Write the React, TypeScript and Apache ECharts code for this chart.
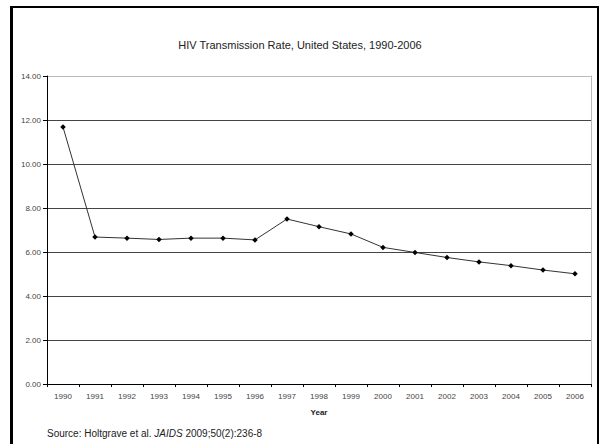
import React, { useEffect, useRef } from "react";
import * as echarts from "echarts";

const years = ["1990","1991","1992","1993","1994","1995","1996","1997","1998","1999","2000","2001","2002","2003","2004","2005","2006"];
const rates = [11.68, 6.68, 6.63, 6.57, 6.63, 6.63, 6.55, 7.5, 7.15, 6.82, 6.21, 5.98, 5.75, 5.55, 5.38, 5.18, 5.01];
const titleText = "HIV Transmission Rate, United States, 1990-2006";
const xAxisName = "Year";

const FONT = '"Liberation Sans", Arial, sans-serif';

export default function App() {
  const ref = useRef<HTMLDivElement>(null);
  useEffect(() => {
    if (!ref.current) return;
    const chart = echarts.init(ref.current, undefined, { renderer: "svg" });
    chart.setOption({
      animation: false,
      backgroundColor: "#fff",
      title: {
        text: titleText,
        left: "center",
        top: 39,
        padding: [0, 0, 0, 10],
        textStyle: { fontFamily: FONT, fontSize: 11, fontWeight: "normal", color: "#222" },
      },
      grid: { left: 47, right: 9, top: 76, bottom: 60, containLabel: false },
      xAxis: {
        type: "category",
        data: years,
        boundaryGap: true,
        name: xAxisName,
        nameLocation: "middle",
        nameGap: 24,
        nameTextStyle: { fontFamily: FONT, fontSize: 8, fontWeight: "bold", color: "#222" },
        axisLine: { lineStyle: { color: "#000", width: 1 } },
        axisTick: { show: true, inside: false, length: 3, interval: 0, lineStyle: { color: "#000" } },
        axisLabel: { fontFamily: FONT, fontSize: 8, color: "#444", margin: 8, interval: 0 },
        splitLine: { show: false },
      },
      yAxis: [
        {
          type: "value",
          min: 0,
          max: 14,
          interval: 2,
          axisLine: { show: true, lineStyle: { color: "#000", width: 1 } },
          axisTick: { show: true, inside: false, length: 4, lineStyle: { color: "#000" } },
          axisLabel: { fontFamily: FONT, fontSize: 8, color: "#444", margin: 6, formatter: (v: number) => v.toFixed(2) },
          splitLine: {
            show: true,
            lineStyle: { color: ["#444", "#444", "#444", "#444", "#444", "#444", "#444", "#bbb"], width: 1 },
          },
        },
        {
          type: "value",
          min: 0,
          max: 14,
          interval: 2,
          position: "right",
          axisLine: { show: true, lineStyle: { color: "#bbb", width: 1 } },
          axisTick: { show: false },
          axisLabel: { show: false },
          splitLine: { show: false },
        },
      ],
      series: [
        {
          type: "line",
          data: rates,
          yAxisIndex: 0,
          symbol: "diamond",
          symbolSize: 5.5,
          lineStyle: { color: "#333", width: 1 },
          itemStyle: { color: "#000" },
        },
      ],
      graphic: [
        { type: "line", shape: { x1: 11.5, y1: 6, x2: 11.5, y2: 444 }, style: { stroke: "#000", lineWidth: 3 } },
        { type: "line", shape: { x1: 10, y1: 7, x2: 599, y2: 7 }, style: { stroke: "#000", lineWidth: 2 } },
        { type: "line", shape: { x1: 598, y1: 6, x2: 598, y2: 444 }, style: { stroke: "#000", lineWidth: 2 } },
        {
          type: "text",
          x: 47,
          y: 433,
          style: {
            text: "Source: Holtgrave et al. {i|JAIDS} 2009;50(2):236-8",
            fontFamily: FONT,
            fontSize: 10,
            fill: "#222",
            verticalAlign: "middle",
            rich: { i: { fontStyle: "italic", fontFamily: FONT, fontSize: 10, fill: "#222" } },
          },
        },
      ],
    });
    return () => chart.dispose();
  }, []);
  return (
    <div style={{ position: "fixed", left: 0, top: 0, width: 600, height: 444 }}>
      <div ref={ref} style={{ width: 600, height: 444 }} />
    </div>
  );
}
